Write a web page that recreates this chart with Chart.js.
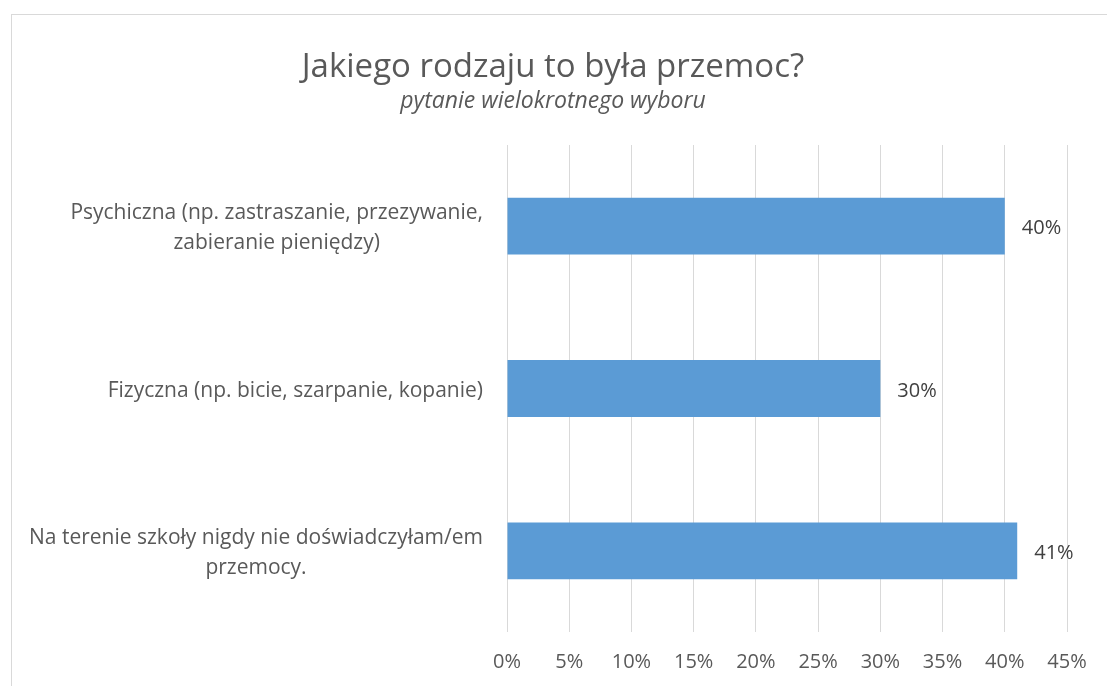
<!DOCTYPE html>
<html>
<head>
<meta charset="utf-8">
<script src="https://cdn.jsdelivr.net/npm/chart.js@4/dist/chart.umd.min.js"></script>
<style>
  html, body { margin: 0; padding: 0; background: #fff; overflow: hidden; }
  #frame { position: absolute; left: 11px; top: 14px; width: 1200px; height: 800px; border: 1px solid #d9d9d9; }
  #wrap { position: absolute; left: 0; top: 0; width: 1107px; height: 686px; }
</style>
</head>
<body>
<div id="frame"></div>
<div id="wrap"><canvas id="chart" width="1107" height="686"></canvas></div>
<script>
const titleText = "Jakiego rodzaju to była przemoc?";
const subtitleText = "pytanie wielokrotnego wyboru";

const categories = [
  ["Psychiczna (np. zastraszanie, przezywanie,", "zabieranie pieniędzy)"],
  ["Fizyczna (np. bicie, szarpanie, kopanie)"],
  ["Na terenie szkoły nigdy nie doświadczyłam/em", "przemocy."]
];
const values = [40, 30, 41];
const xTicks = [0, 5, 10, 15, 20, 25, 30, 35, 40, 45];

const FONT = "'Open Sans'";
const textColor = "#595959";

const customText = {
  id: "customText",
  afterDraw(chart) {
    const ctx = chart.ctx;
    ctx.save();
    ctx.fillStyle = textColor;
    ctx.textAlign = "center";
    ctx.textBaseline = "alphabetic";
    ctx.font = `33px ${FONT}`;
    ctx.fillText(titleText, 553, 77);
    ctx.font = `italic 23px ${FONT}`;
    ctx.fillText(subtitleText, 553, 108);

    // category labels: block right-aligned, lines centred inside block
    const ys = chart.scales.y;
    ctx.font = `21px ${FONT}`;
    const right = chart.chartArea.left - 24;
    const lh = 30;
    categories.forEach((lines, i) => {
      const cy = ys.getPixelForTick(i);
      const w = Math.max(...lines.map(l => ctx.measureText(l).width));
      const cx = right - w / 2;
      lines.forEach((l, k) => {
        ctx.fillText(l, cx, cy + 8 + (k - (lines.length - 1) / 2) * lh);
      });
    });
    ctx.restore();
  },
  afterDatasetsDraw(chart) {
    const ctx = chart.ctx;
    ctx.save();
    ctx.fillStyle = "#404040";
    ctx.font = `20px ${FONT}`;
    ctx.textAlign = "left";
    ctx.textBaseline = "alphabetic";
    chart.getDatasetMeta(0).data.forEach((bar, i) => {
      ctx.fillText(values[i] + "%", bar.x + 17, bar.y + 8);
    });
    ctx.restore();
  }
};

new Chart(document.getElementById("chart"), {
  type: "bar",
  data: {
    labels: categories,
    datasets: [{
      data: values,
      backgroundColor: "#5b9bd5",
      borderWidth: 0,
      categoryPercentage: 1,
      barPercentage: 0.35
    }]
  },
  options: {
    indexAxis: "y",
    responsive: false,
    animation: false,
    layout: { padding: { top: 145, right: 40, bottom: 0, left: 0 } },
    plugins: {
      legend: { display: false },
      tooltip: { enabled: false }
    },
    scales: {
      x: {
        min: 0,
        max: 45,
        afterBuildTicks: s => { s.ticks = xTicks.map(v => ({ value: v })); },
        afterFit: s => { s.height = 54; },
        grid: { color: "#d9d9d9", lineWidth: 1, drawTicks: false },
        border: { display: false },
        ticks: {
          padding: 18,
          color: textColor,
          font: { family: "Open Sans", size: 20, lineHeight: 1.2 },
          callback: v => v + "%"
        }
      },
      y: {
        afterFit: s => { s.width = 507; },
        grid: { display: false },
        border: { display: false },
        ticks: { display: false }
      }
    }
  },
  plugins: [customText]
});
</script>
</body>
</html>
